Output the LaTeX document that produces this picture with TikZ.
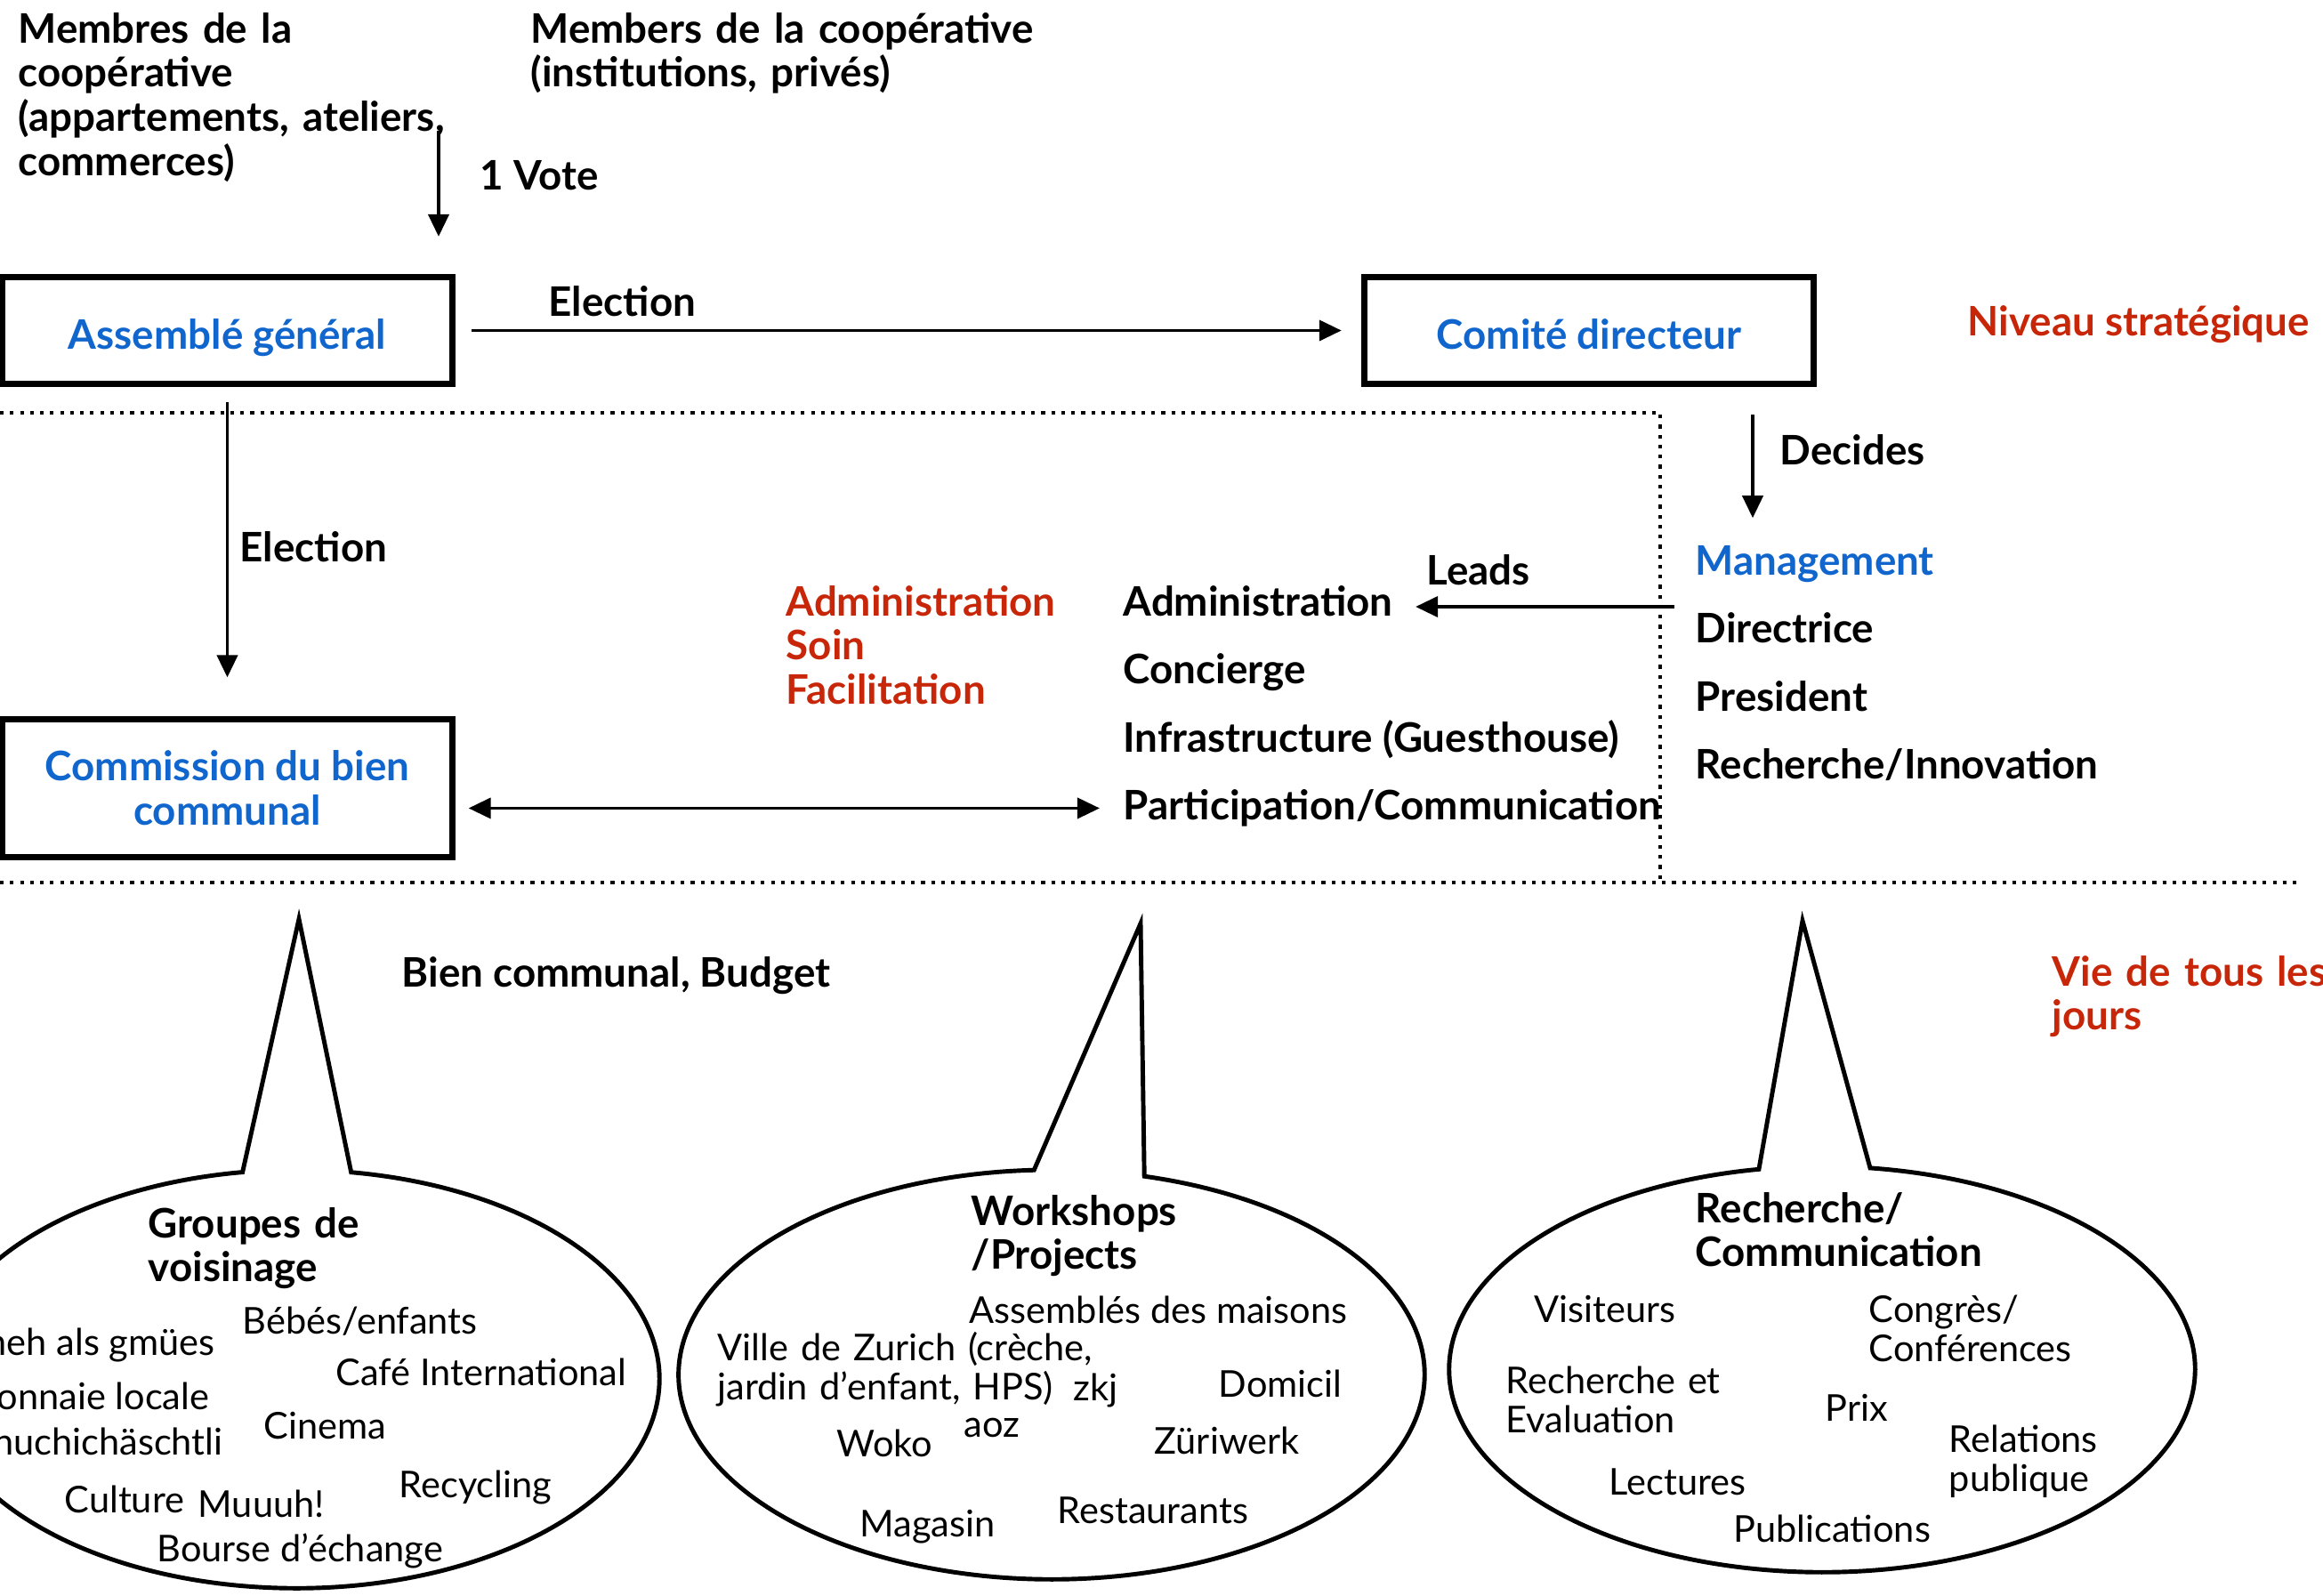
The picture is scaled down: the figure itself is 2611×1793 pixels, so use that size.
\documentclass[tikz,border=0pt]{standalone}
\usepackage{fontspec}
\setmainfont{Lato}
\usetikzlibrary{positioning,arrows.meta}

\definecolor{cblue}{RGB}{16,102,204}
\definecolor{cred}{RGB}{200,38,8}
\newcommand{\lblfont}{\fontsize{13pt}{14.2pt}\selectfont\bfseries}
\newcommand{\itmfont}{\fontsize{11.8pt}{12.6pt}\selectfont}

\begin{document}
\begin{tikzpicture}[x=0.01cm, y=-0.01cm, node distance=0.765cm, >={Triangle[length=0.25cm, width=0.23cm]}]

	% Define custom styles
	\tikzstyle{box} = [rectangle, draw, line width=2pt, minimum width=5.05cm, minimum height=1.2cm,
	text=cblue, font=\lblfont, align=center]
	\tikzstyle{lbl} = [inner sep=0pt, font=\lblfont, anchor=base west]
	\tikzstyle{item} = [inner sep=0pt, font=\itmfont, anchor=base west]
	\tikzstyle{link} = [->, line width=1.1pt]
	\tikzstyle{levelline} = [dotted, line width=1.2pt]
	\tikzstyle{bubble} = [line width=1.4pt, fill=white]

	\useasboundingbox (0,0) rectangle (2611,1793);
	\clip (0,0) rectangle (2611,1793);

	% Boxes
	\node[box, text height=0.41cm, text depth=0pt] (ag) at (255.5,371.5) {Assemblé général};
	\node[box, text height=0.41cm, text depth=0pt] (cd) at (1786,371.5) {Comité directeur};
	\node[box, minimum height=1.54cm] (cbc) at (255.5,886) {Commission du bien\\communal};

	% Texts of the strategic level
	\node[lbl, text width=5.5cm, align=left] (membres) at (20,48) {Membres de la\\coopérative\\(appartements, ateliers,\\commerces)};
	\node[lbl, text width=6cm, align=left] (members) at (596,48) {Members de la coopérative\\(institutions, privés)};
	\node[lbl] (vote) at (539,213) {1 Vote};
	\node[lbl] (elect1) at (616,355) {Election};
	\node[lbl, text=cred] (niveau) at (2211,377) {Niveau stratégique};
	\node[lbl] (decides) at (2000,522) {Decides};
	\node[lbl] (elect2) at (269,631) {Election};
	\node[lbl] (leads) at (1603,657) {Leads};

	% Management column
	\node[lbl, text=cblue] (mgmt) at (1905,646) {Management};
	\node[lbl, below=of mgmt.base west, anchor=base west] (directrice) {Directrice};
	\node[lbl, below=of directrice.base west, anchor=base west] (president) {President};
	\node[lbl, below=of president.base west, anchor=base west] (innovation) {Recherche/Innovation};

	% Services led by the management
	\node[lbl, text=cred, text width=4cm, align=left] (roles) at (883,692) {Administration\\Soin\\Facilitation};
	\node[lbl] (adm) at (1262,692) {Administration};
	\node[lbl, below=of adm.base west, anchor=base west] (concierge) {Concierge};
	\node[lbl, below=of concierge.base west, anchor=base west] (infra) {Infrastructure (Guesthouse)};
	\node[lbl, below=of infra.base west, anchor=base west] (part) {Participation/Communication};

	% Everyday level
	\node[lbl] (budget) at (451,1109) {Bien communal, Budget};
	\node[lbl, text=cred, text width=4cm, align=left] (vie) at (2306,1108) {Vie de tous les\\jours};

	% Level separators
	\draw[levelline] (0,464) -- (1866,464) -- (1866,992);
	\draw[levelline] (0,992) -- (2581,992);

	% Speech bubbles
	\draw[bubble] (336,1033) -- (394.7,1317.7) arc[start angle=81.3, end angle=-261.5, x radius=4.08cm, y radius=2.35cm] -- cycle;
	\draw[bubble] (1282,1038) -- (1286.2,1322.2) arc[start angle=75.6, end angle=-267.3, x radius=4.19cm, y radius=2.30cm] -- cycle;
	\draw[bubble] (2026,1035) -- (2102,1312.9) arc[start angle=82.6, end angle=-260.24, x radius=4.19cm, y radius=2.28cm] -- cycle;

	% Groupes de voisinage
	\node[lbl, text width=4cm, align=left] (voisinage) at (166,1391) {Groupes de\\voisinage};
	\node[item] (bebes) at (272,1499) {Bébés/enfants};
	\node[item, anchor=base east] (gmues) at (242,1523) {meh als gmües};
	\node[item] (cafe) at (377,1557) {Café International};
	\node[item, anchor=base east] (monnaie) at (236,1584) {Monnaie locale};
	\node[item] (cinema) at (296,1617) {Cinema};
	\node[item, anchor=base east] (chuchi) at (251,1635) {Chuchichäschtli};
	\node[item] (recycling) at (448,1683) {Recycling};
	\node[item] (culture) at (72,1700) {Culture};
	\node[item] (muuuh) at (222,1705) {Muuuh!};
	\node[item] (bourse) at (176,1755) {Bourse d’échange};

	% Workshops / Projects
	\node[lbl, text width=4cm, align=left] (workshops) at (1091,1377) {Workshops\\/Projects};
	\node[item] (maisons) at (1089,1487) {Assemblés des maisons};
	\node[item, text width=4.3cm, align=left] (zurich) at (806,1529) {Ville de Zurich (crèche,\\jardin d’enfant, HPS)};
	\node[item] (zkj) at (1206,1574) {zkj};
	\node[item] (domicil) at (1369,1570) {Domicil};
	\node[item] (aoz) at (1083,1615) {aoz};
	\node[item] (woko) at (940,1637) {Woko};
	\node[item] (zuriwerk) at (1297,1634) {Züriwerk};
	\node[item] (restaurants) at (1188,1712) {Restaurants};
	\node[item] (magasin) at (966,1727) {Magasin};

	% Recherche / Communication
	\node[lbl, text width=4cm, align=left] (recherche) at (1905,1374) {Recherche/\\Communication};
	\node[item] (visiteurs) at (1724,1486) {Visiteurs};
	\node[item, text width=3cm, align=left] (congres) at (2100,1486) {Congrès/\\Conférences};
	\node[item, text width=3cm, align=left] (evaluation) at (1692,1566) {Recherche et\\Evaluation};
	\node[item] (prix) at (2051,1597) {Prix};
	\node[item, text width=3cm, align=left] (relations) at (2190,1632) {Relations\\publique};
	\node[item] (lectures) at (1808,1680) {Lectures};
	\node[item] (publications) at (1948,1733) {Publications};

	% Arrows connecting the boxes
	\coordinate (votetop) at (493,147);
	\coordinate (decx) at (1970,0);
	\coordinate (leadsend) at (1882,682);
	\draw[link, shorten >=0.42cm] (votetop) -- (votetop |- ag.north);
	\draw[link, shorten <=0.18cm, shorten >=0.22cm] (ag) -- (cd);
	\draw[link, shorten <=0.17cm, shorten >=0.44cm] (ag) -- (cbc);
	\draw[link, shorten <=0.31cm, shorten >=0.30cm] (cd.south -| decx) -- (mgmt.north -| decx);
	\draw[link, shorten >=0.25cm] (leadsend) -- (leadsend -| adm.east);
	\draw[link, <->, shorten <=0.15cm, shorten >=0.26cm] (cbc.east |- part.west) -- (part.west);

\end{tikzpicture}
\end{document}
